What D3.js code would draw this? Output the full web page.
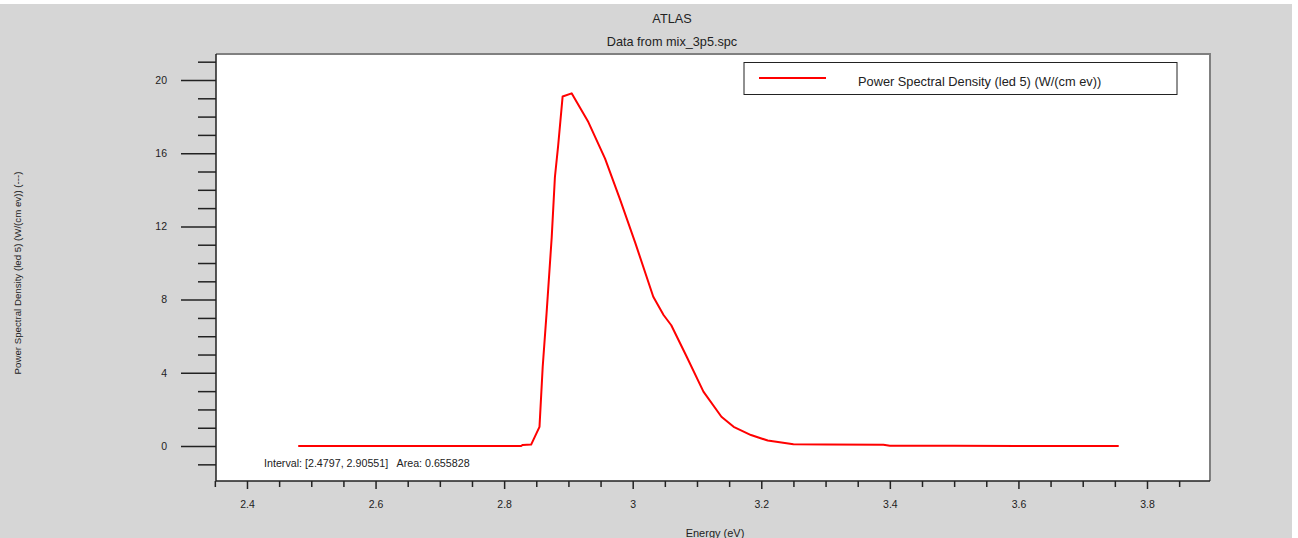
<!DOCTYPE html>
<html><head><meta charset="utf-8">
<script src="https://cdn.jsdelivr.net/npm/d3@7"></script>
<style>body{margin:0;background:#fff}svg{display:block;font-family:"Liberation Sans",Arial,sans-serif}text{white-space:pre}</style>
</head><body><svg id="c" width="1298" height="538"></svg>
<script>
const energy = [2.4797, 2.55, 2.65, 2.75, 2.826, 2.829, 2.842, 2.855, 2.860, 2.866, 2.874, 2.879, 2.884, 2.891, 2.905, 2.931, 2.957, 2.980, 3.004, 3.032, 3.048, 3.060, 3.084, 3.110, 3.138, 3.157, 3.184, 3.21, 3.25, 3.30, 3.39, 3.40, 3.50, 3.60, 3.70, 3.756];
const psd = [0, 0, 0, 0, 0, 0.06, 0.08, 1.05, 4.33, 7.25, 11.4, 14.7, 16.4, 19.1, 19.27, 17.7, 15.7, 13.5, 11.1, 8.16, 7.16, 6.6, 4.88, 2.97, 1.6, 1.05, 0.6, 0.3, 0.1, 0.08, 0.07, 0.02, 0.01, 0, 0, 0];
const xMajor = [2.4, 2.6, 2.8, 3, 3.2, 3.4, 3.6, 3.8];
const yMajor = [0, 4, 8, 12, 16, 20];
const title = "ATLAS";
const subtitle = "Data from mix_3p5.spc";
const xTitle = "Energy (eV)";
const yTitle = "Power Spectral Density (led 5) (W/(cm ev)) (---)";
const legendLabel = "Power Spectral Density (led 5) (W/(cm ev))";
const note = "Interval: [2.4797, 2.90551]   Area: 0.655828";

const svg = d3.select("#c");
const L = 216, R = 1210, T = 54, B = 481;
const x = d3.scaleLinear().domain([2.3518, 3.898]).range([L, R]);
const y = d3.scaleLinear().domain([-1.91, 21.42]).range([B, T]);

svg.append("rect").attr("x", 0).attr("y", 4).attr("width", 1292).attr("height", 534).attr("fill", "#d6d6d6");
svg.append("rect").attr("x", L).attr("y", T).attr("width", R - L).attr("height", B - T).attr("fill", "#fff");
svg.append("path").attr("d", `M${L},${T}H${R}V${B}`).attr("fill", "none").attr("stroke", "#808080").attr("stroke-width", 2);
svg.append("path").attr("d", `M${L},${T}V${B}H${R}`).attr("fill", "none").attr("stroke", "#222").attr("stroke-width", 1.5);

const yMinor = d3.range(-1, 22, 1).filter(v => !yMajor.includes(v));
const ya = svg.append("g").attr("transform", `translate(${L},0)`);
ya.call(d3.axisLeft(y).tickValues(yMinor).tickSize(18).tickFormat("")).call(g => g.select(".domain").remove());
ya.append("g").call(d3.axisLeft(y).tickValues(yMajor).tickSize(35).tickPadding(14).tickFormat(d3.format("d"))).call(g => g.select(".domain").remove());
ya.selectAll("line").attr("stroke", "#222").attr("stroke-width", 1.5);
ya.selectAll("text").attr("font-size", 10.5).attr("fill", "#222").attr("font-family", "'Liberation Sans',Arial,sans-serif");

const xMinor = d3.range(2.35, 3.9, 0.05).map(v => +v.toFixed(2)).filter(v => !xMajor.some(m => Math.abs(m - v) < 1e-6));
const xa = svg.append("g").attr("transform", `translate(0,${B})`);
xa.call(d3.axisBottom(x).tickValues(xMinor).tickSize(6).tickFormat("")).call(g => g.select(".domain").remove());
xa.append("g").call(d3.axisBottom(x).tickValues(xMajor).tickSize(8).tickPadding(12).tickFormat(d => d3.format("")(d))).call(g => g.select(".domain").remove());
xa.selectAll("line").attr("stroke", "#222").attr("stroke-width", 1.5);
xa.selectAll("text").attr("font-size", 10.5).attr("fill", "#222").attr("font-family", "'Liberation Sans',Arial,sans-serif");

const data = energy.map((e, i) => [e, psd[i]]);
svg.append("path").datum(data).attr("fill", "none").attr("stroke", "#ff0000").attr("stroke-width", 2)
  .attr("stroke-linejoin", "round")
  .attr("d", d3.line().x(d => x(d[0])).y(d => y(d[1])));

svg.append("text").attr("x", 672).attr("y", 23).attr("text-anchor", "middle").attr("font-size", 12.7).attr("fill", "#222").text(title);
svg.append("text").attr("x", 672).attr("y", 46).attr("text-anchor", "middle").attr("font-size", 12.7).attr("fill", "#222").text(subtitle);
svg.append("text").attr("x", 715).attr("y", 537).attr("text-anchor", "middle").attr("font-size", 11).attr("fill", "#222").text(xTitle);
svg.append("text").attr("transform", "translate(21,273) rotate(-90)").attr("text-anchor", "middle").attr("font-size", 9.7).attr("fill", "#222").text(yTitle);
svg.append("text").attr("x", 264).attr("y", 467).attr("font-size", 10.7).attr("fill", "#222").attr("xml:space", "preserve").text(note);

const lg = svg.append("g");
lg.append("rect").attr("x", 744).attr("y", 62.5).attr("width", 433).attr("height", 32).attr("fill", "#fff").attr("stroke", "#222").attr("stroke-width", 1);
lg.append("line").attr("x1", 759).attr("x2", 826).attr("y1", 78).attr("y2", 78).attr("stroke", "#ff0000").attr("stroke-width", 2);
lg.append("text").attr("x", 858).attr("y", 86).attr("font-size", 12.8).attr("fill", "#222").text(legendLabel);
</script></body></html>
